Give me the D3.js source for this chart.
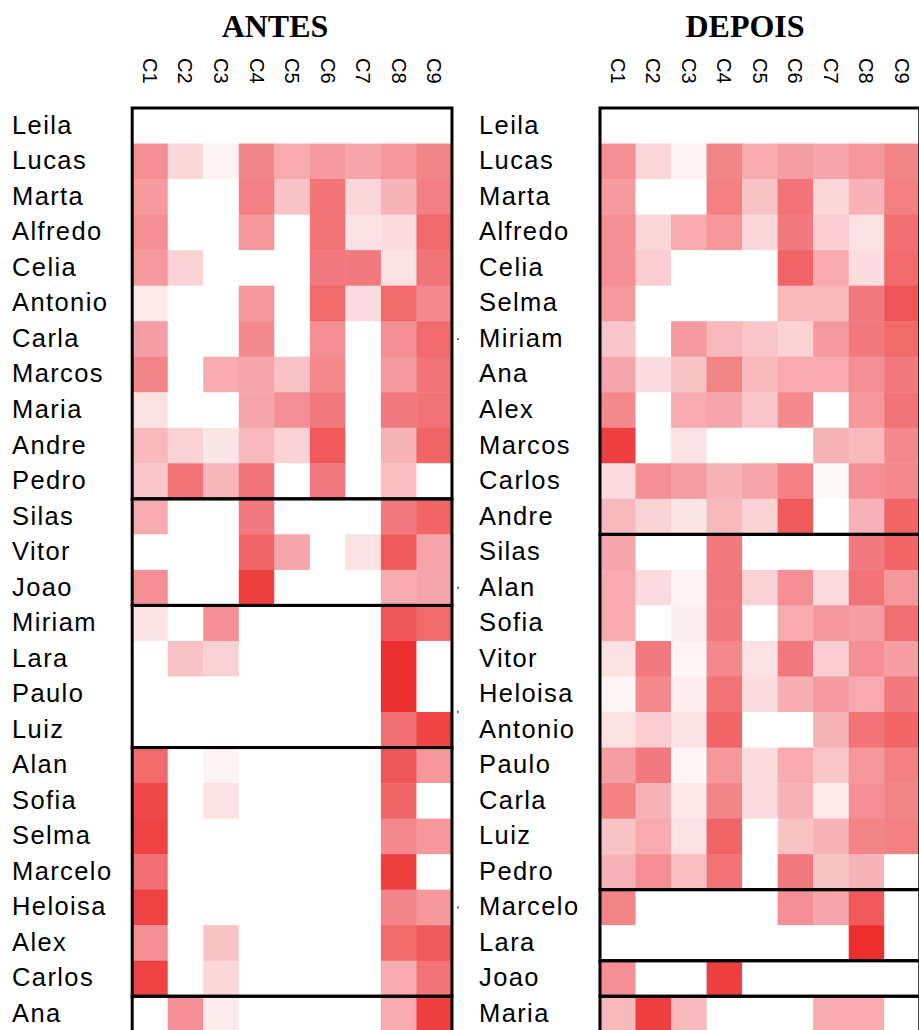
<!DOCTYPE html>
<html>
<head>
<meta charset="utf-8">
<script src="https://cdn.jsdelivr.net/npm/d3@7"></script>
<style>
  html, body { margin: 0; padding: 0; background: #ffffff; }
  svg { display: block; }
</style>
</head>
<body>
<svg id="chart" width="919" height="1030"></svg>
<script>
// Column categories
const columns = ["C1", "C2", "C3", "C4", "C5", "C6", "C7", "C8", "C9"];

// ANTES: row order, intensities (0 = none, 1 = maximum) and group sizes
const rowsAntes = ["Leila", "Lucas", "Marta", "Alfredo", "Celia", "Antonio", "Carla", "Marcos", "Maria", "Andre", "Pedro",
  "Silas", "Vitor", "Joao",
  "Miriam", "Lara", "Paulo", "Luiz",
  "Alan", "Sofia", "Selma", "Marcelo", "Heloisa", "Alex", "Carlos",
  "Ana"];
const valuesAntes = [
  [0, 0, 0, 0, 0, 0, 0, 0, 0],
  [0.55, 0.2, 0.06, 0.6, 0.42, 0.5, 0.45, 0.52, 0.6],
  [0.5, 0, 0, 0.62, 0.3, 0.68, 0.2, 0.38, 0.63],
  [0.55, 0, 0, 0.52, 0, 0.68, 0.15, 0.17, 0.73],
  [0.5, 0.22, 0, 0, 0, 0.65, 0.65, 0.15, 0.68],
  [0.1, 0, 0, 0.52, 0, 0.72, 0.18, 0.72, 0.58],
  [0.48, 0, 0, 0.58, 0, 0.55, 0, 0.55, 0.72],
  [0.6, 0, 0.42, 0.45, 0.3, 0.58, 0, 0.5, 0.68],
  [0.15, 0, 0, 0.45, 0.55, 0.65, 0, 0.65, 0.68],
  [0.35, 0.22, 0.13, 0.35, 0.22, 0.8, 0, 0.38, 0.75],
  [0.28, 0.68, 0.37, 0.68, 0, 0.65, 0, 0.32, 0],
  [0.42, 0, 0, 0.65, 0, 0, 0, 0.65, 0.75],
  [0, 0, 0, 0.75, 0.45, 0, 0.15, 0.8, 0.45],
  [0.55, 0, 0, 0.92, 0, 0, 0, 0.42, 0.45],
  [0.13, 0, 0.55, 0, 0, 0, 0, 0.82, 0.72],
  [0, 0.3, 0.23, 0, 0, 0, 0, 1.0, 0],
  [0, 0, 0, 0, 0, 0, 0, 1.0, 0],
  [0, 0, 0, 0, 0, 0, 0, 0.7, 0.9],
  [0.72, 0, 0.06, 0, 0, 0, 0, 0.82, 0.52],
  [0.88, 0, 0.15, 0, 0, 0, 0, 0.75, 0],
  [0.9, 0, 0, 0, 0, 0, 0, 0.58, 0.52],
  [0.7, 0, 0, 0, 0, 0, 0, 0.92, 0],
  [0.9, 0, 0, 0, 0, 0, 0, 0.6, 0.52],
  [0.55, 0, 0.3, 0, 0, 0, 0, 0.72, 0.8],
  [0.9, 0, 0.2, 0, 0, 0, 0, 0.42, 0.68],
  [0, 0.55, 0.1, 0, 0, 0, 0, 0.42, 0.92]
];
const groupsAntes = [11, 3, 4, 7, 1];

// DEPOIS: row order, intensities and group sizes
const rowsDepois = ["Leila", "Lucas", "Marta", "Alfredo", "Celia", "Selma", "Miriam", "Ana", "Alex", "Marcos", "Carlos", "Andre",
  "Silas", "Alan", "Sofia", "Vitor", "Heloisa", "Antonio", "Paulo", "Carla", "Luiz", "Pedro",
  "Marcelo", "Lara",
  "Joao",
  "Maria"];
const valuesDepois = [
  [0, 0, 0, 0, 0, 0, 0, 0, 0],
  [0.55, 0.2, 0.06, 0.6, 0.42, 0.48, 0.45, 0.52, 0.6],
  [0.5, 0, 0, 0.62, 0.3, 0.68, 0.2, 0.38, 0.62],
  [0.55, 0.2, 0.42, 0.52, 0.2, 0.65, 0.25, 0.15, 0.7],
  [0.55, 0.25, 0, 0, 0, 0.75, 0.42, 0.17, 0.72],
  [0.5, 0, 0, 0, 0, 0.35, 0.35, 0.65, 0.82],
  [0.28, 0, 0.5, 0.35, 0.28, 0.22, 0.5, 0.65, 0.72],
  [0.45, 0.17, 0.3, 0.6, 0.35, 0.42, 0.42, 0.55, 0.65],
  [0.58, 0, 0.42, 0.45, 0.28, 0.58, 0, 0.52, 0.68],
  [0.92, 0, 0.15, 0, 0, 0, 0.38, 0.35, 0.58],
  [0.18, 0.55, 0.48, 0.38, 0.45, 0.62, 0.03, 0.55, 0.58],
  [0.35, 0.22, 0.13, 0.35, 0.22, 0.8, 0, 0.38, 0.75],
  [0.45, 0, 0, 0.65, 0, 0, 0, 0.65, 0.75],
  [0.42, 0.18, 0.06, 0.65, 0.22, 0.55, 0.18, 0.68, 0.52],
  [0.42, 0, 0.08, 0.65, 0, 0.42, 0.52, 0.48, 0.7],
  [0.15, 0.65, 0.05, 0.58, 0.15, 0.65, 0.25, 0.55, 0.48],
  [0.05, 0.58, 0.08, 0.68, 0.17, 0.4, 0.5, 0.42, 0.65],
  [0.15, 0.25, 0.15, 0.75, 0, 0, 0.38, 0.68, 0.75],
  [0.48, 0.65, 0.05, 0.52, 0.17, 0.42, 0.28, 0.52, 0.62],
  [0.62, 0.38, 0.12, 0.6, 0.17, 0.38, 0.1, 0.55, 0.6],
  [0.3, 0.42, 0.15, 0.75, 0, 0.3, 0.38, 0.6, 0.62],
  [0.38, 0.55, 0.32, 0.68, 0, 0.65, 0.3, 0.38, 0],
  [0.6, 0, 0, 0, 0, 0.55, 0.45, 0.8, 0],
  [0, 0, 0, 0, 0, 0, 0, 1.0, 0],
  [0.55, 0, 0, 0.92, 0, 0, 0, 0, 0],
  [0.35, 0.92, 0.35, 0, 0, 0, 0.42, 0.42, 0]
];
const groupsDepois = [12, 10, 2, 1, 1];

// Small dots beside the ANTES panel, in row units from the top of the grid
const markerRows = [6.5, 13.5, 17.0, 22.5];

const svg = d3.select("#chart");
const cell = 35.53;
const gridTop = 108;

const color = d3.scaleLinear()
  .domain([0, 0.5, 1])
  .range(["#ffffff", "#f59ba0", "#ec2e2d"])
  .clamp(true);

function drawPanel(opts) {
  const { title, titleX, left, labelX, rows, values, groups } = opts;
  const g = svg.append("g");

  const x = d3.scaleBand().domain(columns).range([left, left + cell * columns.length]);
  const y = d3.scaleBand().domain(rows).range([gridTop, gridTop + cell * rows.length]);

  // title
  g.append("text")
    .attr("x", titleX)
    .attr("y", 37)
    .attr("text-anchor", "middle")
    .style("font-family", "'Liberation Serif', 'Times New Roman', serif")
    .style("font-weight", "bold")
    .style("font-size", "32px")
    .attr("fill", "#000")
    .text(title);

  // column labels, rotated to read downward
  g.selectAll("text.col")
    .data(columns)
    .join("text")
    .attr("class", "col")
    .attr("transform", d => `translate(${x(d) + x.bandwidth() / 2},58) rotate(90)`)
    .attr("dy", "0.35em")
    .style("font-family", "'Liberation Sans', Arial, sans-serif")
    .style("font-size", "20px")
    .attr("fill", "#000")
    .text(d => d);

  // cells
  const cells = [];
  rows.forEach((r, i) => columns.forEach((c, j) => cells.push({ r, c, v: values[i][j] })));
  g.selectAll("rect.cell")
    .data(cells)
    .join("rect")
    .attr("class", "cell")
    .attr("x", d => x(d.c))
    .attr("y", d => y(d.r))
    .attr("width", x.bandwidth() + 0.5)
    .attr("height", y.bandwidth() + 0.5)
    .attr("fill", d => color(d.v));

  // row labels
  g.selectAll("text.row")
    .data(rows)
    .join("text")
    .attr("class", "row")
    .attr("x", labelX)
    .attr("y", d => y(d) + y.bandwidth() / 2 + 8)
    .style("font-family", "'Liberation Sans', Arial, sans-serif")
    .style("font-size", "25.5px")
    .style("letter-spacing", "1.4px")
    .attr("fill", "#000")
    .text(d => d);

  // group frames
  let start = 0;
  groups.forEach(n => {
    const top = y(rows[start]);
    const bottom = y(rows[start + n - 1]) + y.bandwidth();
    g.append("rect")
      .attr("x", left)
      .attr("y", top)
      .attr("width", cell * columns.length)
      .attr("height", bottom - top)
      .attr("fill", "none")
      .attr("stroke", "#000")
      .attr("stroke-width", 3);
    start += n;
  });

  return { x, y };
}

drawPanel({
  title: "ANTES", titleX: 275, left: 132.2, labelX: 12,
  rows: rowsAntes, values: valuesAntes, groups: groupsAntes
});

drawPanel({
  title: "DEPOIS", titleX: 745, left: 600, labelX: 479,
  rows: rowsDepois, values: valuesDepois, groups: groupsDepois
});

svg.selectAll("circle.marker")
  .data(markerRows)
  .join("circle")
  .attr("class", "marker")
  .attr("cx", 458)
  .attr("cy", d => gridTop + d * cell)
  .attr("r", 1)
  .attr("fill", "#444");
</script>
</body>
</html>
